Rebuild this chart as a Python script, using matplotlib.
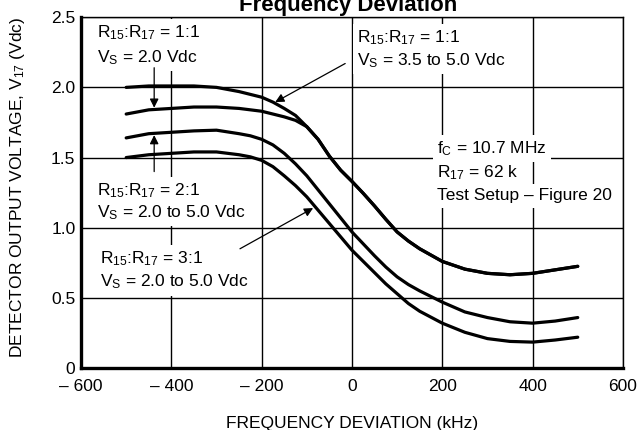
import matplotlib
matplotlib.use("Agg")
import matplotlib.pyplot as plt

# fonts
plt.rcParams["font.family"] = ["Liberation Sans", "DejaVu Sans"]
plt.rcParams["mathtext.fontset"] = "custom"
plt.rcParams["mathtext.rm"] = "Liberation Sans"
plt.rcParams["mathtext.it"] = "Liberation Sans:italic"
plt.rcParams["mathtext.bf"] = "Liberation Sans:bold"

# data
freq = [-500, -450, -400, -350, -300, -250, -225, -200, -175, -150, -125, -100,
        -75, -50, -25, 0, 25, 50, 75, 100, 125, 150, 200, 250, 300, 350, 400, 450, 500]
v_11_hi = [2.00, 2.01, 2.01, 2.01, 2.00, 1.97, 1.95, 1.93, 1.895, 1.85, 1.80, 1.72,
           1.63, 1.51, 1.41, 1.33, 1.245, 1.155, 1.06, 0.97, 0.905, 0.85, 0.76, 0.705,
           0.675, 0.665, 0.675, 0.70, 0.725]
v_11_lo = [1.81, 1.84, 1.85, 1.86, 1.86, 1.85, 1.84, 1.83, 1.81, 1.79, 1.765, 1.72,
           1.63, 1.51, 1.41, 1.33, 1.245, 1.155, 1.06, 0.97, 0.905, 0.85, 0.76, 0.705,
           0.675, 0.665, 0.675, 0.70, 0.725]
v_21 = [1.64, 1.67, 1.68, 1.69, 1.695, 1.67, 1.655, 1.63, 1.59, 1.53, 1.455, 1.37,
        1.27, 1.17, 1.07, 0.97, 0.885, 0.80, 0.72, 0.65, 0.595, 0.55, 0.47, 0.40,
        0.36, 0.33, 0.32, 0.335, 0.36]
v_31 = [1.50, 1.52, 1.53, 1.54, 1.54, 1.52, 1.505, 1.48, 1.435, 1.37, 1.30, 1.22,
        1.125, 1.03, 0.935, 0.84, 0.76, 0.68, 0.60, 0.53, 0.46, 0.405, 0.32, 0.255,
        0.21, 0.19, 0.185, 0.20, 0.22]

xticks = [-600, -400, -200, 0, 200, 400, 600]
xlabels = ["\u2013 600", "\u2013 400", "\u2013 200", "0", "200", "400", "600"]
yticks = [0, 0.5, 1.0, 1.5, 2.0, 2.5]
ylabels = ["0", "0.5", "1.0", "1.5", "2.0", "2.5"]

R1517 = "R$_{\\mathrm{15}}$:R$_{\\mathrm{17}}$"
VS = "V$_{\\mathrm{S}}$"

# (x, baseline, text) for each annotation line
notes = [
    (-565, 2.36, R1517 + " = 1:1"),
    (-565, 2.18, VS + " = 2.0 Vdc"),
    (11, 2.32, R1517 + " = 1:1"),
    (11, 2.155, VS + " = 3.5 to 5.0 Vdc"),
    (-565, 1.23, R1517 + " = 2:1"),
    (-565, 1.075, VS + " = 2.0 to 5.0 Vdc"),
    (-558, 0.75, R1517 + " = 3:1"),
    (-558, 0.58, VS + " = 2.0 to 5.0 Vdc"),
    (188, 1.53, "f$_{\\mathrm{C}}$ = 10.7 MHz"),
    (188, 1.36, "R$_{\\mathrm{17}}$ = 62 k"),
    (188, 1.195, "Test Setup \u2013 Figure 20"),
]
# (tip, tail) for each pointer
arrows = [
    ((-438, 1.855), (-438, 2.14)),
    ((-438, 1.66), (-438, 1.40)),
    ((-170, 1.895), (-15, 2.17)),
    ((-86, 1.14), (-248, 0.85)),
]

fig = plt.figure(figsize=(6.39, 4.30), dpi=100)
ax = fig.add_axes([0.1268, 0.144, 0.848, 0.816])

for v in [v_11_hi, v_11_lo, v_21, v_31]:
    ax.plot(freq, v, color="black", lw=2.3, zorder=3,
            solid_capstyle="round", solid_joinstyle="round")

ax.set_xlim(-600, 600)
ax.set_ylim(0, 2.5)
ax.set_xticks(xticks)
ax.set_xticklabels(xlabels)
ax.set_yticks(yticks)
ax.set_yticklabels(ylabels)
ax.tick_params(length=0, labelsize=12.5)
ax.tick_params(axis="x", pad=8)
ax.tick_params(axis="y", pad=4)
ax.grid(True, color="black", lw=1.0, zorder=0)
ax.set_axisbelow(True)
for s in ["top", "right"]:
    ax.spines[s].set_linewidth(1.0)
for s in ["left", "bottom"]:
    ax.spines[s].set_linewidth(2.4)

ax.set_xlabel("FREQUENCY DEVIATION (kHz)", fontsize=12.5, labelpad=16)
ax.set_ylabel(r"DETECTOR OUTPUT VOLTAGE, V$_{\mathrm{17}}$ (Vdc)", fontsize=12.5)
ax.yaxis.set_label_coords(-0.099, 0.515)

fig.text(0.545, 1 - 11 / 430, "Frequency Deviation", ha="center", va="baseline",
         fontsize=16, fontweight="bold")

box = dict(facecolor="white", edgecolor="none", pad=3)
for x, y, t in notes:
    ax.text(x, y, t, fontsize=12.5, va="baseline", ha="left", bbox=box, zorder=2)

for tip, tail in arrows:
    ax.annotate("", xy=tip, xytext=tail, zorder=4,
                arrowprops=dict(arrowstyle="-|>", color="black", lw=0.9,
                                mutation_scale=13, shrinkA=0, shrinkB=0))

fig.savefig("out.png", dpi=100)
